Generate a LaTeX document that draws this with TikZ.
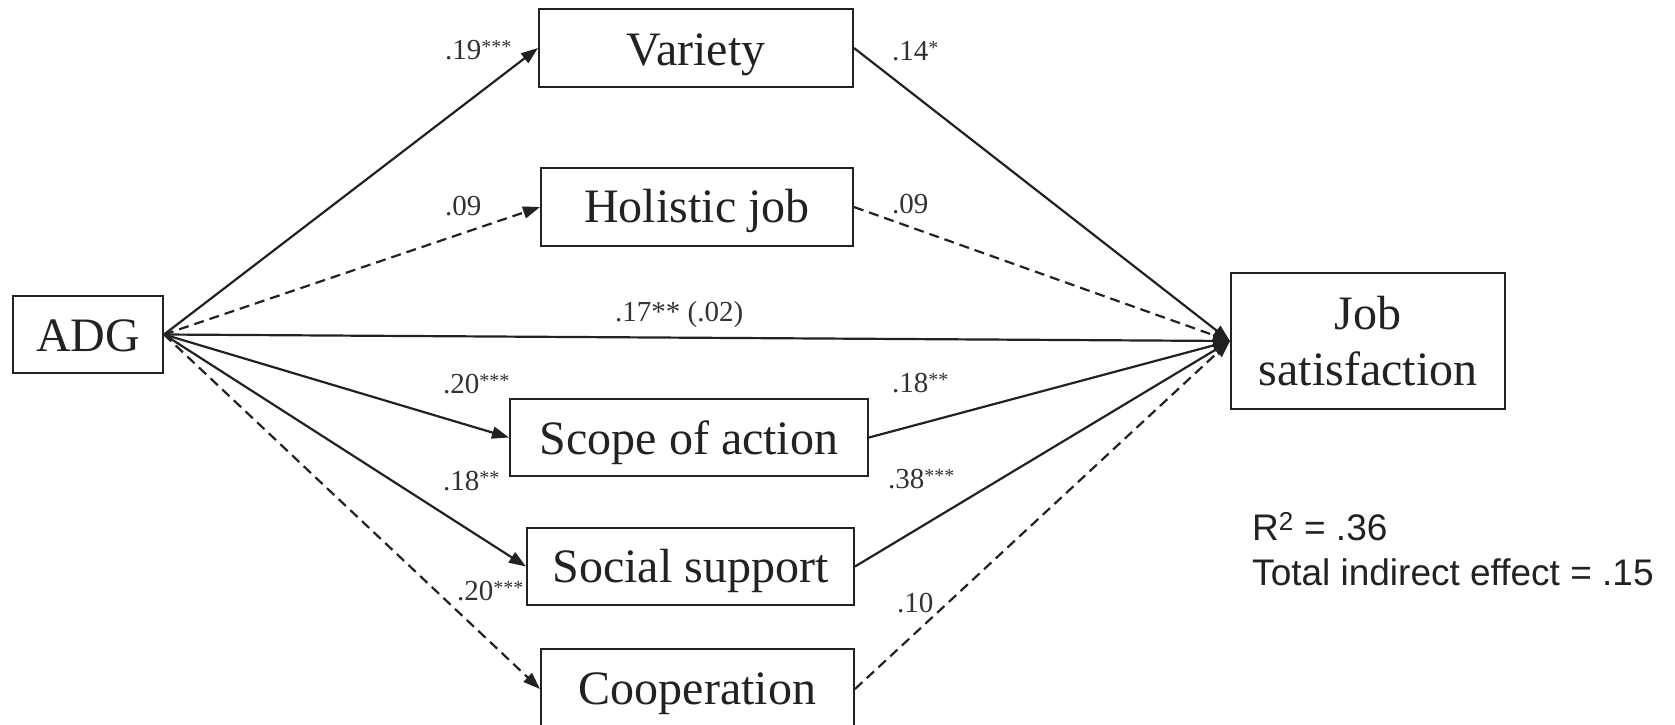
\documentclass[tikz,border=0pt]{standalone}
\usepackage{fontspec}
\setmainfont{Liberation Serif}
\newfontfamily\labsans{Liberation Sans}
\usetikzlibrary{arrows.meta}
\definecolor{ink}{RGB}{34,34,34}
\definecolor{labink}{RGB}{50,50,50}
\newcommand\sigst[1]{\raisebox{6pt}{\fontsize{20}{20}\selectfont #1}}
\newcommand\bt[2]{\raisebox{-#1pt}[0pt][0pt]{#2}}
\tikzset{
  box/.style={draw=ink, line width=2pt, fill=white, inner sep=0pt, text=ink,
    font=\fontsize{48}{57}\selectfont, align=center},
  path/.style={draw=ink, line width=2.2pt, -{Triangle[length=17pt,width=12pt]}},
  nspath/.style={path, dash pattern=on 10pt off 6pt},
  coef/.style={anchor=base west, inner sep=0pt, text=labink, font=\fontsize{29}{29}\selectfont},
  stat/.style={anchor=base west, inner sep=0pt, text=ink, font=\labsans\fontsize{37}{37}\selectfont}
}
\begin{document}
\begin{tikzpicture}[x=1pt,y=-1pt]
\useasboundingbox (0,0) rectangle (1675,724);
\node[box, minimum width=150pt, minimum height=77pt] (adg) at (88,334.5) {\bt{16.5}{ADG}};
\node[box, minimum width=314pt, minimum height=78pt] (var) at (696,48) {\bt{17}{Variety}};
\node[box, minimum width=312pt, minimum height=78pt] (hol) at (697,207) {\bt{15.5}{Holistic job}};
\node[box, minimum width=358pt, minimum height=77pt] (sco) at (689,437.5) {\bt{17}{Scope of action}};
\node[box, minimum width=327pt, minimum height=77pt] (soc) at (690.5,566.5) {\bt{16}{Social support}};
\node[box, minimum width=313pt, minimum height=80pt] (coo) at (697.5,689) {\bt{15}{Cooperation}};
\node[box, minimum width=274pt, minimum height=136pt] (job) at (1368,341) {Job\\[-1pt]satisfaction};

\draw[path] (adg.east) -- (var.west);
\draw[nspath] (adg.east) -- (hol.west);
\draw[path] (adg.east) -- (sco.west);
\draw[path] (adg.east) -- (soc.west);
\draw[nspath] (adg.east) -- (coo.west);
\draw[path] (adg.east) -- (job.west);
\draw[path] (var.east) -- (job.west);
\draw[nspath] (hol.east) -- (job.west);
\draw[path] (sco.east) -- (job.west);
\draw[path] (soc.east) -- (job.west);
\draw[nspath] (coo.east) -- (job.west);

\node[coef] (c1) at (445,59) {.19\sigst{***}};
\node[coef] (c2) at (445,215) {.09};
\node[coef] (c3) at (615,321) {.17** (.02)};
\node[coef] (c4) at (443,393) {.20\sigst{***}};
\node[coef] (c5) at (443,490) {.18\sigst{**}};
\node[coef] (c6) at (457,600) {.20\sigst{***}};
\node[coef] (c7) at (892,60) {.14\sigst{*}};
\node[coef] (c8) at (892,213) {.09};
\node[coef] (c9) at (892,392) {.18\sigst{**}};
\node[coef] (c10) at (888,488) {.38\sigst{***}};
\node[coef] (c11) at (897,612) {.10};

\node[stat] (r2) at (1252,540) {R\textsuperscript{2} = .36};
\node[stat] (tie) at (1252,585) {Total indirect effect = .15};
\end{tikzpicture}
\end{document}
